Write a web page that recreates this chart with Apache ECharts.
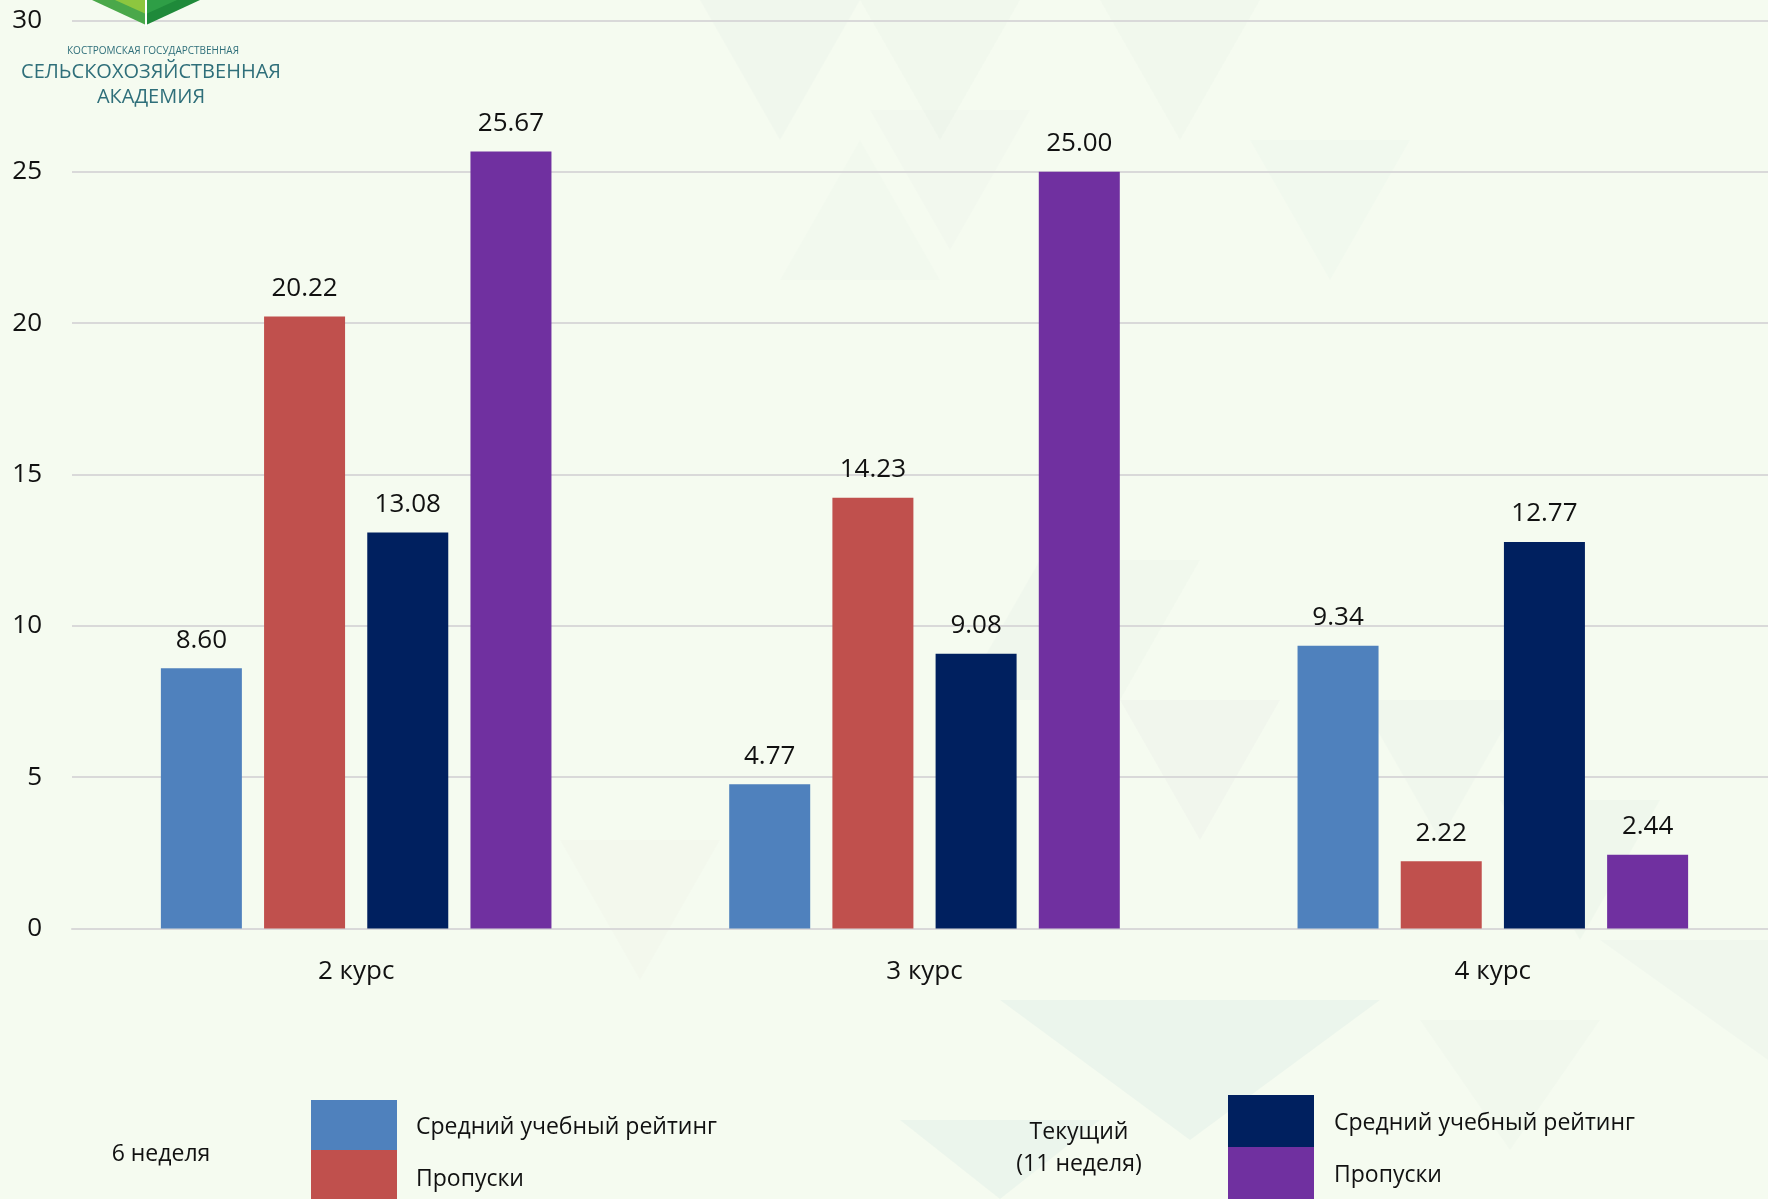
<!DOCTYPE html>
<html>
<head>
<meta charset="utf-8">
<script src="https://cdn.jsdelivr.net/npm/echarts@6/dist/echarts.min.js"></script>
<style>
html,body{margin:0;padding:0;background:#f5fbf0;overflow:hidden;}
#chart{width:1768px;height:1199px;}
</style>
</head>
<body>
<div id="chart"></div>
<script>
// ---- data ----
const categories = ['2 курс', '3 курс', '4 курс'];
const week6Rating = [8.60, 4.77, 9.34];
const week6Absences = [20.22, 14.23, 2.22];
const currentRating = [13.08, 9.08, 12.77];
const currentAbsences = [25.67, 25.00, 2.44];
const yTicks = { min: 0, max: 30, interval: 5 };
const legendGroup1 = '6 неделя';
const legendGroup2 = ['Текущий', '(11 неделя)'];
const legendItems = ['Средний учебный рейтинг', 'Пропуски'];
const seriesNames = ['6 неделя: Средний учебный рейтинг', '6 неделя: Пропуски', 'Текущий: Средний учебный рейтинг', 'Текущий: Пропуски'];

const colors = ['#4f81bd', '#c0504d', '#00205f', '#7030a0'];
const FONT = '"Open Sans", "Noto Sans", sans-serif';

const chart = echarts.init(document.getElementById('chart'), null, {renderer: 'canvas'});

function bar(name, data, color) {
  return {
    name: name, type: 'bar', data: data,
    barWidth: 81, barGap: '27.4%', barCategoryGap: '31%',
    itemStyle: {color: color},
    label: {
      show: true, position: 'top', distance: 15,
      fontFamily: FONT, fontSize: 26, color: '#111',
      formatter: p => p.value.toFixed(2)
    },
    z: 5
  };
}

// faint decorative triangles in the background
const tri = [];
function addTri(pts, c) {
  tri.push({type: 'polygon', shape: {points: pts}, style: {fill: c}, z: -10, silent: true});
}
addTri([[700,0],[860,0],[780,140]], 'rgba(150,185,190,0.05)');
addTri([[860,0],[1020,0],[940,140]], 'rgba(150,185,190,0.04)');
addTri([[1100,0],[1260,0],[1180,140]], 'rgba(150,185,190,0.04)');
addTri([[1250,140],[1410,140],[1330,280]], 'rgba(150,185,190,0.035)');
addTri([[870,110],[1030,110],[950,250]], 'rgba(170,150,190,0.03)');
addTri([[780,280],[940,280],[860,140]], 'rgba(150,185,190,0.03)');
addTri([[960,700],[1120,700],[1040,560]], 'rgba(150,185,190,0.05)');
addTri([[1040,560],[1200,560],[1120,700]], 'rgba(150,185,190,0.04)');
addTri([[1120,700],[1280,700],[1200,840]], 'rgba(160,140,190,0.04)');
addTri([[1360,700],[1520,700],[1440,840]], 'rgba(150,185,190,0.05)');
addTri([[1500,800],[1660,800],[1580,940]], 'rgba(150,185,190,0.06)');
addTri([[1600,940],[1768,940],[1768,1060]], 'rgba(150,185,190,0.05)');
addTri([[560,840],[720,840],[640,980]], 'rgba(200,160,170,0.035)');
addTri([[1000,1000],[1380,1000],[1190,1140]], 'rgba(120,170,190,0.07)');
addTri([[900,1120],[1100,1120],[1000,1199]], 'rgba(120,170,190,0.07)');
addTri([[1420,1020],[1600,1020],[1510,1150]], 'rgba(150,185,190,0.04)');

// logo
const logo = [
  {type:'polygon', shape:{points:[[92,0],[146,0],[146,25]]}, style:{fill:'#4aa84a'}, z:20},
  {type:'polygon', shape:{points:[[146,0],[200,0],[146,25]]}, style:{fill:'#1f8a3a'}, z:20},
  {type:'polygon', shape:{points:[[115,0],[146,0],[146,14]]}, style:{fill:'#8dc63f'}, z:21},
  {type:'polygon', shape:{points:[[146,0],[177,0],[146,14]]}, style:{fill:'#2e9e46'}, z:21},
  {type:'line', shape:{x1:146,y1:0,x2:146,y2:26}, style:{stroke:'#ffffff', lineWidth:2}, z:22},
  {type:'text', x:153, y:51, style:{text:'КОСТРОМСКАЯ ГОСУДАРСТВЕННАЯ', fontFamily:FONT, fontSize:10, fill:'#2f6f7a', align:'center', verticalAlign:'middle'}, z:20},
  {type:'text', x:151, y:72, style:{text:'СЕЛЬСКОХОЗЯЙСТВЕННАЯ', fontFamily:FONT, fontSize:20, fill:'#2f6f7a', align:'center', verticalAlign:'middle'}, z:20},
  {type:'text', x:151, y:97, style:{text:'АКАДЕМИЯ', fontFamily:FONT, fontSize:20, fill:'#2f6f7a', align:'center', verticalAlign:'middle'}, z:20}
];

// custom legend
const LF = 23;
const legend = [
  {type:'text', x:161, y:1154, style:{text:legendGroup1, fontFamily:FONT, fontSize:LF, fill:'#111', align:'center', verticalAlign:'middle'}},
  {type:'rect', shape:{x:311, y:1100, width:86, height:50}, style:{fill:colors[0]}},
  {type:'rect', shape:{x:311, y:1150, width:86, height:49}, style:{fill:colors[1]}},
  {type:'text', x:416, y:1127, style:{text:legendItems[0], fontFamily:FONT, fontSize:LF, fill:'#111', align:'left', verticalAlign:'middle'}},
  {type:'text', x:416, y:1179, style:{text:legendItems[1], fontFamily:FONT, fontSize:LF, fill:'#111', align:'left', verticalAlign:'middle'}},
  {type:'text', x:1079, y:1132, style:{text:legendGroup2[0], fontFamily:FONT, fontSize:LF, fill:'#111', align:'center', verticalAlign:'middle'}},
  {type:'text', x:1079, y:1164, style:{text:legendGroup2[1], fontFamily:FONT, fontSize:LF, fill:'#111', align:'center', verticalAlign:'middle'}},
  {type:'rect', shape:{x:1228, y:1095, width:86, height:52}, style:{fill:colors[2]}},
  {type:'rect', shape:{x:1228, y:1147, width:86, height:52}, style:{fill:colors[3]}},
  {type:'text', x:1334, y:1123, style:{text:legendItems[0], fontFamily:FONT, fontSize:LF, fill:'#111', align:'left', verticalAlign:'middle'}},
  {type:'text', x:1334, y:1175, style:{text:legendItems[1], fontFamily:FONT, fontSize:LF, fill:'#111', align:'left', verticalAlign:'middle'}}
];

chart.setOption({
  backgroundColor: '#f5fbf0',
  animation: false,
  grid: {left: 72, width: 1705, top: 20.5, height: 908, containLabel: false, outerBoundsMode: 'none'},
  xAxis: {
    type: 'category', data: categories,
    axisLine: {show: true, lineStyle: {color: '#d9d9d9', width: 2}},
    axisTick: {show: false},
    axisLabel: {fontFamily: FONT, fontSize: 26, color: '#111', margin: 30}
  },
  yAxis: {
    type: 'value', min: yTicks.min, max: yTicks.max, interval: yTicks.interval,
    axisLine: {show: false}, axisTick: {show: false},
    splitLine: {lineStyle: {color: '#d9d9d9', width: 2}},
    axisLabel: {fontFamily: FONT, fontSize: 26, color: '#111', margin: 30}
  },
  series: [
    bar(seriesNames[0], week6Rating, colors[0]),
    bar(seriesNames[1], week6Absences, colors[1]),
    bar(seriesNames[2], currentRating, colors[2]),
    bar(seriesNames[3], currentAbsences, colors[3])
  ],
  graphic: tri.concat(logo).concat(legend)
});
</script>
</body>
</html>
